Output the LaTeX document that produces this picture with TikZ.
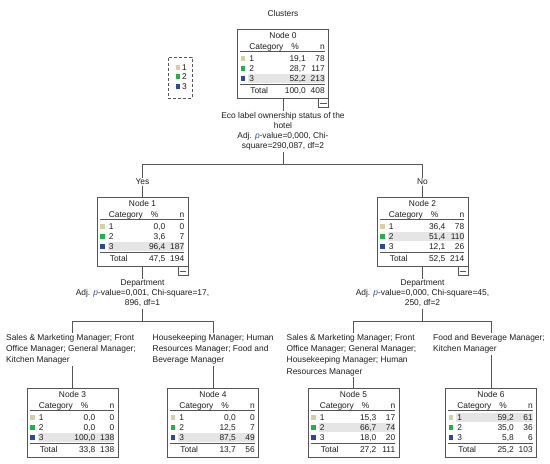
\documentclass[tikz,border=0pt]{standalone}
\usepackage{fontspec}
\setmainfont{Liberation Sans}
\usetikzlibrary{calc,backgrounds}

\definecolor{catone}{RGB}{214,207,158}
\definecolor{cattwo}{RGB}{30,180,70}
\definecolor{catthree}{RGB}{45,70,170}
\definecolor{rowgray}{RGB}{229,229,229}
\definecolor{edgegray}{RGB}{85,85,85}
\definecolor{pblue}{RGB}{55,80,175}
\definecolor{inkgray}{RGB}{30,30,30}

\tikzset{
	treebox/.style={draw=edgegray, fill=white, line width=0.8pt, minimum width=91pt, minimum height=69pt, inner sep=0pt},
	foldbox/.style={draw=edgegray, fill=white, line width=0.7pt, minimum width=10pt, minimum height=9pt, inner sep=0pt},
	celltext/.style={inner sep=0pt, text=inkgray, font=\fontsize{8.4}{10}\selectfont},
	splittext/.style={align=center, fill=white, inner sep=1.5pt, text=inkgray, font=\fontsize{8.4}{10}\selectfont},
	cattext/.style={align=left, fill=white, inner sep=1.5pt, text=inkgray, font=\fontsize{8.4}{11.3}\selectfont},
	conn/.style={draw=edgegray, line width=0.8pt},
	tabline/.style={draw=edgegray, line width=0.6pt},
}

\def\tabhead(#1)#2{%
	\node[celltext, anchor=base] (#1-title) at ($(#1.north)+(0,10)$) {#2};
	\node[celltext, anchor=base west] (#1-cat) at ($(#1.north west)+(12,20.5)$) {Category};
	\node[celltext, anchor=base] (#1-pct) at ($(#1.north west)+(58,20.5)$) {\%};
	\node[celltext, anchor=base east] (#1-n) at ($(#1.north east)+(-4,20.5)$) {n};
	\draw[tabline] ($(#1.north west)+(3,22.5)$) -- ($(#1.north east)+(-4,22.5)$);
}
\def\tabmark(#1)#2{%
	\fill[rowgray] ($(#1.north west)+(11,{15.5+10*#2})$) rectangle ($(#1.north east)+(-4,{24.5+10*#2})$);
}
\def\tabrow(#1)#2#3#4#5{%
	\fill[#3] ($(#1.north west)+(3.5,{17.5+10*#2})$) rectangle +(4.5,5);
	\node[celltext, anchor=base west] (#1-c#2) at ($(#1.north west)+(12,{23+10*#2})$) {#2};
	\node[celltext, anchor=base east] (#1-p#2) at ($(#1.north west)+(69,{23+10*#2})$) {#4};
	\node[celltext, anchor=base east] (#1-k#2) at ($(#1.north east)+(-4,{23+10*#2})$) {#5};
}
\def\tabtotal(#1)#2#3{%
	\draw[tabline, line width=1pt] ($(#1.north west)+(3,55.5)$) -- ($(#1.north east)+(-4,55.5)$);
	\node[celltext, anchor=base west] (#1-tot) at ($(#1.north west)+(13,64.5)$) {Total};
	\node[celltext, anchor=base east] (#1-ptot) at ($(#1.north west)+(69,64.5)$) {#2};
	\node[celltext, anchor=base east] (#1-ktot) at ($(#1.north east)+(-4,64.5)$) {#3};
}
\def\foldmark(#1){%
	\node[foldbox, anchor=north east] (#1-fold) at (#1.south east) {};
	\draw[edgegray, line width=0.7pt] ($(#1-fold.west)+(2,0)$) -- ($(#1-fold.east)+(-2,0)$);
}

\begin{document}
\begin{tikzpicture}[x=1pt, y=-1pt]
	%%%%% START %%%%%
	\useasboundingbox (0,0) rectangle (550,464);
	
	\node[celltext] (title) at (283,13) {Clusters};
	
	\node[draw=edgegray, dash pattern=on 3pt off 2pt, line width=0.8pt, minimum width=24pt, minimum height=41pt, inner sep=0pt] (legend) at (180,77.5) {};
	\fill[catone] (175.5,64.5) rectangle +(4.5,5);
	\fill[cattwo] (175.5,74) rectangle +(4.5,5);
	\fill[catthree] (175.5,83.5) rectangle +(4.5,5);
	\node[celltext, anchor=base west] (leg1) at (182,70) {1};
	\node[celltext, anchor=base west] (leg2) at (182,79.5) {2};
	\node[celltext, anchor=base west] (leg3) at (182,89) {3};
	
	\node[treebox] (n0) at (283,63.5) {};
	\node[treebox] (n1) at (142.5,231.5) {};
	\node[treebox] (n2) at (422.5,231.5) {};
	\node[treebox] (n3) at (72.5,422.5) {};
	\node[treebox] (n4) at (213,422.5) {};
	\node[treebox] (n5) at (353.5,422.5) {};
	\node[treebox] (n6) at (491,422.5) {};
	
	\tabmark(n0){3}
	\tabhead(n0){Node 0}
	\tabrow(n0){1}{catone}{19,1}{78}
	\tabrow(n0){2}{cattwo}{28,7}{117}
	\tabrow(n0){3}{catthree}{52,2}{213}
	\tabtotal(n0){100,0}{408}
	\foldmark(n0)
	
	\tabmark(n1){3}
	\tabhead(n1){Node 1}
	\tabrow(n1){1}{catone}{0,0}{0}
	\tabrow(n1){2}{cattwo}{3,6}{7}
	\tabrow(n1){3}{catthree}{96,4}{187}
	\tabtotal(n1){47,5}{194}
	\foldmark(n1)
	
	\tabmark(n2){2}
	\tabhead(n2){Node 2}
	\tabrow(n2){1}{catone}{36,4}{78}
	\tabrow(n2){2}{cattwo}{51,4}{110}
	\tabrow(n2){3}{catthree}{12,1}{26}
	\tabtotal(n2){52,5}{214}
	\foldmark(n2)
	
	\tabmark(n3){3}
	\tabhead(n3){Node 3}
	\tabrow(n3){1}{catone}{0,0}{0}
	\tabrow(n3){2}{cattwo}{0,0}{0}
	\tabrow(n3){3}{catthree}{100,0}{138}
	\tabtotal(n3){33,8}{138}
	
	\tabmark(n4){3}
	\tabhead(n4){Node 4}
	\tabrow(n4){1}{catone}{0,0}{0}
	\tabrow(n4){2}{cattwo}{12,5}{7}
	\tabrow(n4){3}{catthree}{87,5}{49}
	\tabtotal(n4){13,7}{56}
	
	\tabmark(n5){2}
	\tabhead(n5){Node 5}
	\tabrow(n5){1}{catone}{15,3}{17}
	\tabrow(n5){2}{cattwo}{66,7}{74}
	\tabrow(n5){3}{catthree}{18,0}{20}
	\tabtotal(n5){27,2}{111}
	
	\tabmark(n6){1}
	\tabhead(n6){Node 6}
	\tabrow(n6){1}{catone}{59,2}{61}
	\tabrow(n6){2}{cattwo}{35,0}{36}
	\tabrow(n6){3}{catthree}{5,8}{6}
	\tabtotal(n6){25,2}{103}
	
	\node[splittext, anchor=north] (s0) at (283,110.5) {Eco label ownership status of the\\hotel\\Adj. \textcolor{pblue}{\textit{p}}-value=0,000, Chi-\\square=290,087, df=2};
	\node[splittext, anchor=north] (s1) at (142.5,278.5) {Department\\Adj. \textcolor{pblue}{\textit{p}}-value=0,001, Chi-square=17,\\896, df=1};
	\node[splittext, anchor=north] (s2) at (422.5,278.5) {Department\\Adj. \textcolor{pblue}{\textit{p}}-value=0,000, Chi-square=45,\\250, df=2};
	
	\coordinate (j0) at (283,164);
	\coordinate (j0a) at (142.5,164);
	\coordinate (j0b) at (422.5,164);
	\coordinate (j1) at (142.5,321);
	\coordinate (j1a) at (72.5,321);
	\coordinate (j1b) at (213,321);
	\coordinate (j2) at (422.5,321);
	\coordinate (j2a) at (353.5,321);
	\coordinate (j2b) at (491,321);
	
	\node[splittext] (yes) at (142.5,182) {Yes};
	\node[splittext] (no) at (422.5,182) {No};
	
	\node[cattext, anchor=north west] (b3) at (4.5,332.5) {Sales \& Marketing Manager; Front\\Office Manager; General Manager;\\Kitchen Manager};
	\node[cattext, anchor=north west] (b4) at (151,332.5) {Housekeeping Manager; Human\\Resources Manager; Food and\\Beverage Manager};
	\node[cattext, anchor=north west] (b5) at (285,332.5) {Sales \& Marketing Manager; Front\\Office Manager; General Manager;\\Housekeeping Manager; Human\\Resources Manager};
	\node[cattext, anchor=north west] (b6) at (431.5,332.5) {Food and Beverage Manager;\\Kitchen Manager};
	
	\begin{scope}[on background layer]
		\fill[white] (0,0) rectangle (550,464);
		\draw[conn] (n0.south) -- (j0);
		\draw[conn] (j0a) -- (j0b);
		\draw[conn] (j0a) -- (n1.north);
		\draw[conn] (j0b) -- (n2.north);
		\draw[conn] (n1.south) -- (j1);
		\draw[conn] (j1a) -- (j1b);
		\draw[conn] (j1a) -- (n3.north);
		\draw[conn] (j1b) -- (n4.north);
		\draw[conn] (n2.south) -- (j2);
		\draw[conn] (j2a) -- (j2b);
		\draw[conn] (j2a) -- (n5.north);
		\draw[conn] (j2b) -- (n6.north);
	\end{scope}
	
	%%%%% END %%%%%
\end{tikzpicture}
\end{document}
